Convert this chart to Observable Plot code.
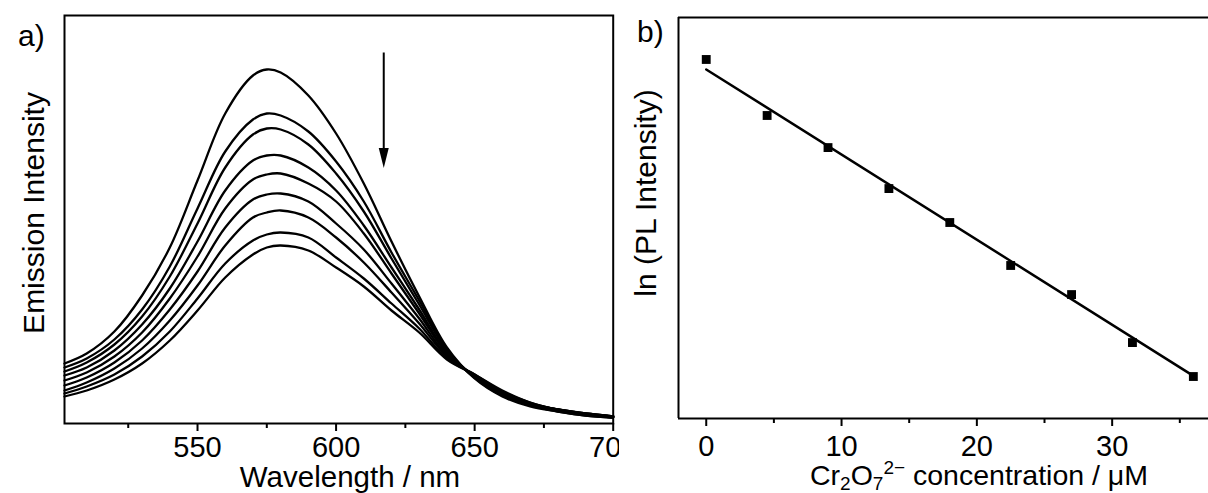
<!DOCTYPE html>
<html><head><meta charset="utf-8">
<script src="https://cdn.jsdelivr.net/npm/d3@7"></script>
<script src="https://cdn.jsdelivr.net/npm/@observablehq/plot@0.6"></script>
<style>
html,body{margin:0;padding:0;background:#fff;}
#wrap{position:relative;width:1208px;height:493px;overflow:hidden;background:#fff;}
#pa{position:absolute;left:0;top:0;}
#pb{position:absolute;left:619px;top:0;background:#fff;}
#ov{position:absolute;left:0;top:0;pointer-events:none;}
</style></head><body>
<div id="wrap"><div id="pa"></div><div id="pb"></div><svg id="ov" width="1208" height="493"></svg></div>
<script>
// ---- Panel a: emission spectra (arbitrary intensity units) ----
const wavelengths = [502,510,520,530,540,550,560,570,575,580,590,600,610,620,630,640,650,660,670,680,690,700];
const spectrum0    = [60,70,92,128,176,243,310,348,354,351,328,290,240,182,127,76,45,27,17,12,8,6];
const spectrum4_5  = [56,65,84,114,157,215,272,304,310,308,292,262,222,171,123,74,46,28,18,12,8,6];
const spectrum9    = [52,61,79,107,147,200,256,289,295,294,279,250,212,165,119,73,46,28,18,13,9,6];
const spectrum13_5 = [48,56,73,99,135,182,233,263,268,268,256,233,198,156,114,71,47,29,19,13,9,6];
const spectrum18   = [43,51,67,91,125,167,215,244,249,250,240,222,190,150,110,70,47,30,19,13,9,7];
const spectrum22_5 = [38,46,61,83,114,152,196,224,229,230,222,200,174,140,105,68,48,30,20,14,9,7];
const spectrum27   = [33,41,55,75,103,138,178,206,211,213,206,186,161,131,100,67,48,31,20,14,10,7];
const spectrum31_5 = [30,37,49,67,92,125,160,183,189,191,186,166,145,120,95,65,49,32,21,14,10,7];
const spectrum36   = [27,33,44,60,83,113,146,169,176,178,173,156,137,113,91,64,49,33,21,14,10,7];
const spectra = [spectrum0,spectrum4_5,spectrum9,spectrum13_5,spectrum18,spectrum22_5,spectrum27,spectrum31_5,spectrum36];
const ticksA = [550,600,650,700];
const minorTicksA = [525,575,625,675];
const arrowX = [617.2];
const arrowFrom = [371];
const arrowTo = [275];
const arrowHead = [265.5];

// ---- Panel b: ln(PL intensity) vs concentration ----
const conc = [0,4.5,9,13.5,18,22.5,27,31.5,36];
const lnPL = [6.865,6.418,6.162,5.835,5.564,5.221,4.989,4.606,4.335];
const fitConc = [0,36];
const fitLnPL = [6.785,4.34];
const ticksB = [0,10,20,30];
const minorTicksB = [5,15,25,35];

const font = '"Liberation Sans", Arial, sans-serif';

const specRows = [];
spectra.forEach((s, i) => s.forEach((v, j) => specRows.push({curve: i, wl: wavelengths[j], I: v})));

const headSymbol = {
  draw(ctx) {
    ctx.moveTo(0, 10);
    ctx.lineTo(-5, -10);
    ctx.lineTo(5, -10);
    ctx.closePath();
  }
};

const plotA = Plot.plot({
  width: 640, height: 493,
  marginLeft: 64, marginRight: 27.3, marginTop: 15, marginBottom: 70,
  x: {domain: [502, 700]},
  y: {domain: [0, 408], axis: null},
  style: {fontFamily: font, fontSize: "29px", color: "black", background: "white", overflow: "visible"},
  marks: [
    Plot.line(specRows, {x: "wl", y: "I", z: "curve", stroke: "black", strokeWidth: 2.3, curve: "catmull-rom"}),
    Plot.link(arrowX.map((x, i) => ({x, y1: arrowFrom[i], y2: arrowTo[i]})), {x1: "x", x2: "x", y1: "y1", y2: "y2", stroke: "black", strokeWidth: 2}),
    Plot.dot(arrowX.map((x, i) => ({x, y: arrowHead[i]})), {x: "x", y: "y", symbol: headSymbol, r: 5, fill: "black", stroke: "none"}),
    Plot.frame({stroke: "black", strokeWidth: 2}),
    Plot.axisX({ticks: ticksA, tickSize: 8, tickPadding: 5, strokeWidth: 2, label: null, fontSize: 29}),
    Plot.axisX({ticks: minorTicksA, tickSize: 5, strokeWidth: 2, tickFormat: () => "", label: null})
  ]
});
document.getElementById("pa").appendChild(plotA);

const xMinB = -2.05, xMaxB = 37.12, yMinB = 4.0, yMaxB = 7.2;
const plotB = Plot.plot({
  width: 589, height: 493,
  marginLeft: 59, marginRight: 0, marginTop: 17, marginBottom: 75,
  x: {domain: [xMinB, xMaxB]},
  y: {domain: [yMinB, yMaxB], axis: null},
  style: {fontFamily: font, fontSize: "29px", color: "black", background: "white", overflow: "visible"},
  marks: [
    Plot.ruleX([xMinB], {stroke: "black", strokeWidth: 2}),
    Plot.ruleY([yMaxB], {stroke: "black", strokeWidth: 2}),
    Plot.ruleY([yMinB], {stroke: "black", strokeWidth: 2}),
    Plot.line(fitConc.map((c, i) => ({c, v: fitLnPL[i]})), {x: "c", y: "v", stroke: "black", strokeWidth: 2.5}),
    Plot.dot(conc.map((c, i) => ({c, v: lnPL[i]})), {x: "c", y: "v", symbol: "square", r: 5, fill: "black", stroke: "none"}),
    Plot.axisX({ticks: ticksB, tickSize: 8, tickPadding: 9, strokeWidth: 2, label: null, fontSize: 29}),
    Plot.axisX({ticks: minorTicksB, tickSize: 5, strokeWidth: 2, tickFormat: () => "", label: null})
  ]
});
document.getElementById("pb").appendChild(plotB);

// ---- text overlay ----
const ov = d3.select("#ov").style("font-family", font).style("font-size", "30px");
ov.append("text").attr("x", 18).attr("y", 46).text("a)");
ov.append("text").attr("transform", "translate(44,213) rotate(-90)").attr("text-anchor", "middle").text("Emission Intensity");
ov.append("text").attr("x", 350).attr("y", 487).attr("text-anchor", "middle").style("font-size", "29.5px").text("Wavelength / nm");
ov.append("text").attr("x", 637).attr("y", 42).text("b)");
ov.append("text").attr("transform", "translate(656,193) rotate(-90)").attr("text-anchor", "middle").text("ln (PL Intensity)");
const t = ov.append("text").attr("x", 979).attr("y", 485).attr("text-anchor", "middle").style("font-size", "28.5px");
t.append("tspan").text("Cr");
t.append("tspan").attr("font-size", 19).attr("baseline-shift", -5).text("2");
t.append("tspan").text("O");
t.append("tspan").attr("font-size", 19).attr("baseline-shift", -5).text("7");
t.append("tspan").attr("font-size", 19).attr("baseline-shift", 11).text("2\u2212");
t.append("tspan").text(" concentration / \u03bcM");
</script>
</body></html>
